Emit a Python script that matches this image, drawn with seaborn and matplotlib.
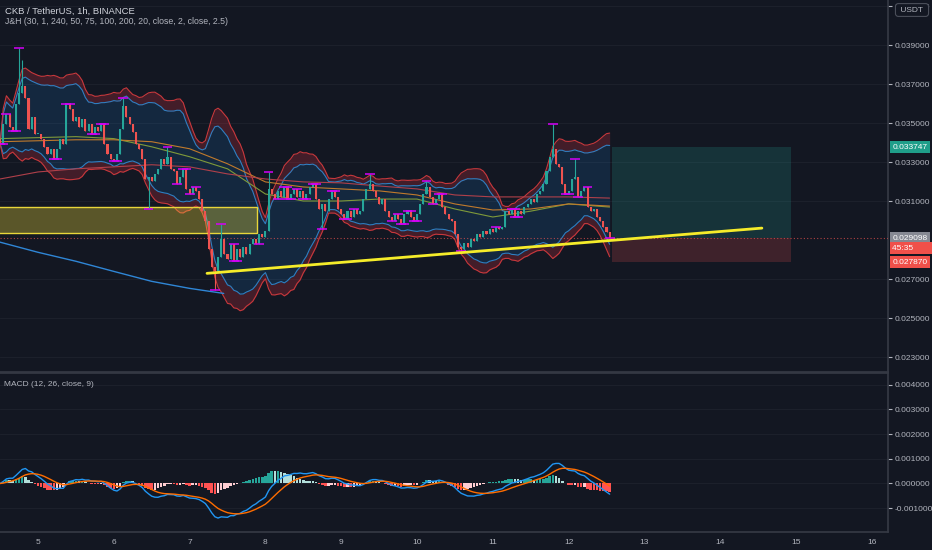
import numpy as np
import pandas as pd
import matplotlib
matplotlib.use("Agg")
import matplotlib.pyplot as plt
from matplotlib.patches import Rectangle
import seaborn as sns

# hourly CKB/USDT candles, first one at day 4 12:00
first_open = 0.03420
closes = [
    0.03394, 0.03497, 0.03548, 0.03481, 0.03461, 0.03600, 0.03652, 0.03688, 0.03626, 0.03471, 0.03533, 0.03445,
    0.03445, 0.03420, 0.03378, 0.03342, 0.03368, 0.03316, 0.03368, 0.03420, 0.03394, 0.03600, 0.03574, 0.03512,
    0.03533, 0.03481, 0.03523, 0.03461, 0.03497, 0.03445, 0.03481, 0.03461, 0.03497, 0.03394, 0.03342, 0.03316,
    0.03306, 0.03342, 0.03471, 0.03585, 0.03533, 0.03497, 0.03456, 0.03394, 0.03368, 0.03316, 0.03213, 0.03224,
    0.03203, 0.03239, 0.03265, 0.03316, 0.03291, 0.03327, 0.03265, 0.03255, 0.03188, 0.03224, 0.03265, 0.03162,
    0.03136, 0.03172, 0.03152, 0.03110, 0.03048, 0.02997, 0.02853, 0.02760, 0.02739, 0.02811, 0.02904, 0.02827,
    0.02801, 0.02878, 0.02791, 0.02853, 0.02811, 0.02863, 0.02827, 0.02878, 0.02904, 0.02878, 0.02930, 0.02914,
    0.02945, 0.03162, 0.03136, 0.03110, 0.03152, 0.03121, 0.03172, 0.03110, 0.03136, 0.03162, 0.03121, 0.03152,
    0.03110, 0.03136, 0.03172, 0.03188, 0.03110, 0.03059, 0.03085, 0.03048, 0.03110, 0.03152, 0.03121, 0.03059,
    0.03033, 0.03007, 0.03048, 0.03018, 0.03059, 0.03033, 0.03048, 0.03110, 0.03162, 0.03188, 0.03152, 0.03121,
    0.03085, 0.03110, 0.03048, 0.03018, 0.02997, 0.03033, 0.03007, 0.02981, 0.03033, 0.03048, 0.03018, 0.02997,
    0.03033, 0.03085, 0.03136, 0.03172, 0.03121, 0.03085, 0.03110, 0.03136, 0.03069, 0.03033, 0.03007, 0.02997,
    0.02930, 0.02863, 0.02853, 0.02884, 0.02863, 0.02904, 0.02894, 0.02930, 0.02914, 0.02945, 0.02930, 0.02956,
    0.02940, 0.02966, 0.02956, 0.02966, 0.03048, 0.03033, 0.03059, 0.03018, 0.03048, 0.03033, 0.03069, 0.03085,
    0.03110, 0.03095, 0.03136, 0.03152, 0.03188, 0.03255, 0.03327, 0.03368, 0.03291, 0.03275, 0.03188, 0.03136,
    0.03152, 0.03213, 0.03224, 0.03121, 0.03152, 0.03172, 0.03069, 0.03048, 0.03059, 0.03018, 0.02997, 0.02966,
    0.02940, 0.029098,
]
# long wicks that stand out (candle index: price)
high_wicks = {6: 0.03884, 7: 0.03822, 39: 0.03626, 53: 0.03378, 70: 0.02981, 85: 0.03249,
              117: 0.03239, 135: 0.03203, 175: 0.03497, 182: 0.03316}
low_wicks = {47: 0.03059, 68: 0.02646, 102: 0.02956, 146: 0.02842}

# moving averages of the J&H study, read every half day
ma_days = [4.5, 5.0, 5.5, 6.0, 6.5, 7.0, 7.5, 8.0, 8.5, 9.0, 9.5, 10.0, 10.5, 11.0, 11.5, 12.0, 12.54]
ma_green = [0.03420, 0.03425, 0.03430, 0.03420, 0.03378, 0.03327, 0.03265, 0.03136, 0.03100,
            0.03100, 0.03110, 0.03110, 0.03059, 0.03018, 0.03048, 0.03085, 0.03069]
ma_orange = [0.03404, 0.03409, 0.03414, 0.03414, 0.03404, 0.03368, 0.03291, 0.03198, 0.03172,
             0.03162, 0.03152, 0.03131, 0.03085, 0.03054, 0.03059, 0.03085, 0.03074]
ma_red = [0.03213, 0.03249, 0.03265, 0.03275, 0.03286, 0.03275, 0.03239, 0.03213, 0.03198,
          0.03193, 0.03177, 0.03162, 0.03131, 0.03121, 0.03121, 0.03121, 0.03115]
curve_days = [4.45, 5.0, 5.5, 6.0, 6.5, 7.0, 7.45]
curve_vals = [0.02894, 0.02837, 0.02791, 0.02739, 0.02688, 0.02652, 0.02626]

# drawings
zone_days = [4.45, 7.89]
zone_prices = [0.02935, 0.03069]
trend_days = [7.23, 14.55]
trend_prices = [0.02729, 0.02961]
pos_days = [12.57, 14.93]
entry, target, stop = 0.029098, 0.033747, 0.027870

price_ticks = [0.023, 0.025, 0.027, 0.031, 0.033, 0.035, 0.037, 0.039, 0.041]
macd_ticks = [-0.001, 0.0, 0.001, 0.002, 0.003, 0.004]
day_ticks = list(range(5, 17))

BG = "#131722"
TXT = "#b2b5be"
LINE = "#363a45"
UP, DOWN = "#26a69a", "#ef5350"

sns.set_theme(style="dark", rc={"axes.facecolor": BG, "figure.facecolor": BG,
                                "axes.grid": False})
plt.rcParams["font.family"] = ["Liberation Sans", "DejaVu Sans"]

df = pd.DataFrame({"close": closes})
df["day"] = 4.5 + np.arange(len(df)) / 24
df["open"] = [first_open] + closes[:-1]
df["high"] = df[["open", "close"]].max(axis=1)
df["low"] = df[["open", "close"]].min(axis=1)
for k, v in high_wicks.items():
    df.loc[k, "high"] = v
for k, v in low_wicks.items():
    df.loc[k, "low"] = v

mid = df["close"].rolling(20, min_periods=1).mean()
sd = df["close"].rolling(20, min_periods=1).std(ddof=0)
df["bu"], df["bl"] = mid + 2 * sd, mid - 2 * sd
df["ru"], df["rl"] = mid + 2.5 * sd, mid - 2.5 * sd

ema12 = df["close"].ewm(span=12, adjust=False).mean()
ema26 = df["close"].ewm(span=26, adjust=False).mean()
df["macd"] = ema12 - ema26
df["signal"] = df["macd"].ewm(span=9, adjust=False).mean()
df["hist"] = df["macd"] - df["signal"]

x0 = 5 + (0 - 38) / 75.8
x1 = 5 + (888 - 38) / 75.8

fig = plt.figure(figsize=(9.32, 5.5), dpi=100)
ax = fig.add_axes([0, 178 / 550, 888 / 932, 372 / 550])
axm = fig.add_axes([0, 18 / 550, 888 / 932, 159 / 550])

# ---- price panel
for p in price_ticks:
    ax.axhline(p, color="#1c202b", lw=0.8, zorder=0)

ax.fill_between(df["day"], df["bl"], df["bu"], color="#2196f3", alpha=0.14, lw=0, zorder=1)
ax.fill_between(df["day"], df["bu"], df["ru"], color="#f23645", alpha=0.22, lw=0, zorder=1)
ax.fill_between(df["day"], df["rl"], df["bl"], color="#f23645", alpha=0.22, lw=0, zorder=1)
for col, c in [("bu", "#2f7fc1"), ("bl", "#2f7fc1"), ("ru", "#c8383c"), ("rl", "#c8383c")]:
    sns.lineplot(x=df["day"], y=df[col], ax=ax, color=c, lw=0.8, zorder=2)

sns.lineplot(x=ma_days, y=ma_green, ax=ax, color="#7f9a3a", lw=0.8, zorder=2)
sns.lineplot(x=ma_days, y=ma_orange, ax=ax, color="#c07a2c", lw=0.8, zorder=2)
sns.lineplot(x=ma_days, y=ma_red, ax=ax, color="#b0404a", lw=0.8, zorder=2)
sns.lineplot(x=curve_days, y=curve_vals, ax=ax, color="#2f86d6", lw=1.0, zorder=2)

ax.add_patch(Rectangle((zone_days[0], zone_prices[0]), zone_days[1] - zone_days[0],
                       zone_prices[1] - zone_prices[0], facecolor="#ffeb3b", alpha=0.3,
                       edgecolor="none", zorder=3))
ax.add_patch(Rectangle((zone_days[0], zone_prices[0]), zone_days[1] - zone_days[0],
                       zone_prices[1] - zone_prices[0], facecolor="none",
                       edgecolor="#e8d63a", lw=1, zorder=3))

cols = np.where(df["close"] >= df["open"], UP, DOWN)
ax.vlines(df["day"], df["low"], df["high"], colors=cols, lw=0.8, zorder=4)
body = np.maximum((df["close"] - df["open"]).abs(), 0.00003)
ax.bar(df["day"], body, bottom=df[["open", "close"]].min(axis=1), width=0.65 / 24,
       color=cols, linewidth=0, zorder=4)

# fractal marks on swing highs / lows
hmax = df["high"].rolling(5, center=True, min_periods=3).max()
lmin = df["low"].rolling(5, center=True, min_periods=3).min()
fh = df[df["high"] == hmax]
fl = df[df["low"] == lmin]
ax.hlines(fh["high"], fh["day"] - 0.065, fh["day"] + 0.065, colors="#d500f9", lw=1.1, zorder=5)
ax.hlines(fl["low"], fl["day"] - 0.065, fl["day"] + 0.065, colors="#d500f9", lw=1.1, zorder=5)

# long position tool
ax.fill_between(pos_days, entry, target, color=UP, alpha=0.2, lw=0, zorder=1)
ax.fill_between(pos_days, stop, entry, color=DOWN, alpha=0.2, lw=0, zorder=1)
ax.axhline(entry, color=DOWN, lw=0.8, ls=(0, (1, 2)), alpha=0.7, zorder=3)
sns.lineplot(x=trend_days, y=trend_prices, ax=ax, color="#f5ec2a", lw=2.0, zorder=6)

ax.set_xlim(x0, x1)
ax.set_ylim(0.022231, 0.041308)
ax.yaxis.tick_right()
ax.set_yticks(price_ticks)
ax.set_yticklabels([f"{p:.6f}" for p in price_ticks])
ax.set_xticks([])
ax.tick_params(axis="y", colors=TXT, labelsize=6, length=3, pad=2, width=0.8)
ax.set_xlabel("")
ax.set_ylabel("")
for s in ["top", "left"]:
    ax.spines[s].set_visible(False)
for s in ["right", "bottom"]:
    ax.spines[s].set_color(LINE)
    ax.spines[s].set_linewidth(1.2)


def tag(a, y, text, fc):
    a.text(1.005, y, text, transform=a.get_yaxis_transform(), ha="left", va="center",
           fontsize=6, color="white", zorder=10, clip_on=False,
           bbox=dict(boxstyle="square,pad=0.3", fc=fc, ec="none"))


tag(ax, target, f"{target:.6f}", "#1f9e8a")
tag(ax, entry, f"{entry:.6f}", "#868993")
tag(ax, entry - 0.00052, "45:35       ", "#f0504a")
tag(ax, stop, f"{stop:.6f}", "#f0504a")

fig.text(5 / 932, 1 - 11 / 550, "CKB / TetherUS, 1h, BINANCE", color="#d1d4dc",
         fontsize=6.8, va="center")
fig.text(5 / 932, 1 - 22 / 550, "J&H (30, 1, 240, 50, 75, 100, 200, 20, close, 2, close, 2.5)",
         color=TXT, fontsize=6.3, va="center")
fig.text(912 / 932, 1 - 10 / 550, " USDT ", color=TXT, fontsize=6, ha="center", va="center",
         bbox=dict(boxstyle="round,pad=0.35", fc=BG, ec="#4a4e59", lw=0.8), zorder=10)

# ---- MACD panel
for p in macd_ticks:
    axm.axhline(p, color="#1c202b", lw=0.8, zorder=0)
h = df["hist"]
dh = h.diff().fillna(0)
hcol = np.where(h >= 0, np.where(dh >= 0, "#26a69a", "#b2dfdb"),
                np.where(dh <= 0, "#ff5252", "#ffcdd2"))
axm.bar(df["day"], h, width=0.8 / 24, color=hcol, linewidth=0, zorder=2)
sns.lineplot(x=df["day"], y=df["macd"], ax=axm, color="#2196f3", lw=1.0, zorder=3)
sns.lineplot(x=df["day"], y=df["signal"], ax=axm, color="#ff6d00", lw=1.0, zorder=3)

axm.set_xlim(x0, x1)
axm.set_ylim(-0.001964, 0.004474)
axm.yaxis.tick_right()
axm.set_yticks(macd_ticks)
axm.set_yticklabels([f"{p:.6f}" for p in macd_ticks])
axm.set_xticks(day_ticks)
axm.set_xticklabels([str(d) for d in day_ticks])
axm.tick_params(axis="both", colors=TXT, labelsize=6, length=3, pad=2, width=0.8)
axm.set_xlabel("")
axm.set_ylabel("")
axm.spines["left"].set_visible(False)
for s in ["right", "bottom", "top"]:
    axm.spines[s].set_color(LINE)
    axm.spines[s].set_linewidth(1.2)
axm.text(0.004, 0.925, "MACD (12, 26, close, 9)", transform=axm.transAxes, color=TXT,
         fontsize=6, va="center")

fig.savefig("out.png", dpi=100, facecolor=BG)
